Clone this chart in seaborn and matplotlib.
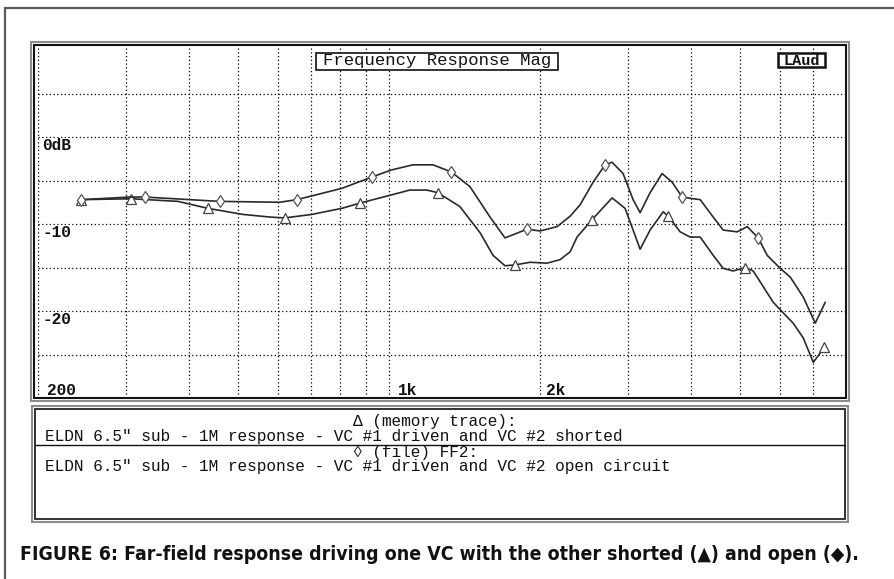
import matplotlib
matplotlib.use("Agg")
import matplotlib.pyplot as plt
from matplotlib import font_manager as fm
from matplotlib.patches import Rectangle
from matplotlib.lines import Line2D
from matplotlib.ticker import NullLocator
import pandas as pd
import seaborn as sns

# Far-field SPL, VC #2 open circuit (diamond trace)
open_freq = [244, 305, 326, 460, 606, 656, 806, 925, 1010, 1116,
             1224, 1330, 1450, 1590, 1703, 1884, 2000, 2163, 2296, 2403,
             2551, 2695, 2783, 2927, 3065, 3165, 3313, 3501, 3666, 3838,
             4036, 4169, 4425, 4634, 4941, 5172, 5441, 5669, 6018, 6301,
             6689, 7067, 7398]
open_db = [-7.2, -6.9, -6.9, -7.4, -7.5, -7.2, -5.9, -4.6, -3.8, -3.2,
           -3.2, -4.0, -5.7, -9.2, -11.6, -10.6, -10.8, -10.3, -9.1, -7.8,
           -5.2, -3.2, -2.9, -4.2, -7.2, -8.7, -6.4, -4.2, -5.2, -6.9,
           -7.1, -7.2, -9.2, -10.7, -10.9, -10.3, -11.6, -13.6, -15.1, -16.1,
           -18.4, -21.4, -19.0]
open_marks = [0, 2, 3, 5, 7, 11, 15, 21, 29, 36]

# Far-field SPL, VC #2 shorted (triangle trace)
shorted_freq = [244, 307, 380, 436, 512, 579, 620, 702, 806, 875,
                1005, 1100, 1190, 1252, 1385, 1519, 1612, 1703, 1783, 1910,
                2065, 2192, 2296, 2370, 2539, 2783, 2954, 3065, 3165, 3313,
                3518, 3600, 3803, 3981, 4169, 4425, 4634, 4851, 5126, 5317,
                5567, 5828, 6074, 6387, 6689, 7003, 7299, 7365]
shorted_db = [-7.2, -7.1, -7.4, -8.2, -8.9, -9.2, -9.3, -8.9, -8.2, -7.6,
              -6.7, -6.1, -6.1, -6.4, -8.0, -11.0, -13.6, -14.8, -14.7, -14.4,
              -14.5, -14.1, -13.2, -11.5, -9.5, -7.0, -8.2, -10.7, -12.9, -10.7,
              -8.6, -9.1, -10.9, -11.5, -11.5, -13.6, -15.1, -15.4, -15.0, -15.4,
              -17.2, -19.0, -20.1, -21.4, -23.1, -25.9, -24.5, -24.1]
shorted_marks = [0, 1, 3, 6, 9, 13, 18, 24, 31, 38, 47]

grid_freqs = [200, 300, 400, 500, 600, 700, 800, 900,
              1000, 2000, 3000, 4000, 5000, 6000, 7000]
grid_db = [5, 0, -5, -10, -15, -20, -25]
freq_labels = [(208, "200"), (1042, "1k"), (2055, "2k")]
db_labels = [(0, "0dB"), (-10, "-10"), (-20, "-20")]

title_text = "Frequency Response Mag"
badge_text = "LAud"
legend_head_1 = "Δ (memory trace):"
legend_desc_1 = "ELDN 6.5\" sub - 1M response - VC #1 driven and VC #2 shorted"
legend_head_2 = "◊ (file) FF2:"
legend_desc_2 = "ELDN 6.5\" sub - 1M response - VC #1 driven and VC #2 open circuit"
caption = ("FIGURE 6: Far-field response driving one VC with the other "
           "shorted (▲) and open (◆).")


def has_font(name):
    try:
        fm.findfont(fm.FontProperties(family=name), fallback_to_default=False)
        return True
    except ValueError:
        return False


MONO = [f for f in ["Liberation Mono"] if has_font(f)] + ["DejaVu Sans Mono"]
NARROW = [f for f in ["Liberation Sans Narrow", "DejaVu Sans Condensed"]
          if has_font(f)] + ["DejaVu Sans"]

W, H = 894, 579
sns.set_theme(style="white")
plt.rcParams["font.family"] = MONO

fig = plt.figure(figsize=(W / 100, H / 100), dpi=100)
fig.patch.set_facecolor("white")


def fx(x):
    return x / W


def fy(y):
    return 1 - y / H


def box(x0, y0, x1, y1, color, lw, fill=False, z=1):
    r = Rectangle((fx(x0), fy(y1)), fx(x1) - fx(x0), fy(y0) - fy(y1),
                  transform=fig.transFigure, fill=fill,
                  facecolor="white" if fill else "none",
                  edgecolor=color, lw=lw, zorder=z)
    fig.add_artist(r)


def hline(x0, x1, y, color, lw):
    fig.add_artist(Line2D([fx(x0), fx(x1)], [fy(y), fy(y)],
                          transform=fig.transFigure, color=color, lw=lw))


def vline(x, y0, y1, color, lw):
    fig.add_artist(Line2D([fx(x), fx(x)], [fy(y0), fy(y1)],
                          transform=fig.transFigure, color=color, lw=lw))


# page border
hline(5, W, 8, "#5a5a5a", 1.6)
vline(5, 8, H, "#5a5a5a", 1.6)

ax = fig.add_axes([fx(38), fy(398), (845 - 38) / W, (398 - 46) / H])
ax.set_facecolor("white")

df_open = pd.DataFrame({"freq": open_freq, "db": open_db})
df_short = pd.DataFrame({"freq": shorted_freq, "db": shorted_db})

sns.lineplot(data=df_short, x="freq", y="db", ax=ax, estimator=None,
             sort=False, color="#2a2a2a", lw=1.2, marker="^",
             markevery=shorted_marks, markersize=6.5,
             markerfacecolor="white", markeredgecolor="#444444",
             markeredgewidth=0.9, zorder=4)
sns.lineplot(data=df_open, x="freq", y="db", ax=ax, estimator=None,
             sort=False, color="#2a2a2a", lw=1.2, marker="d",
             markevery=open_marks, markersize=6.5,
             markerfacecolor="white", markeredgecolor="#555555",
             markeredgewidth=0.9, zorder=4)

ax.set_xscale("log")
ax.set_xlim(200, 8100)
ax.set_ylim(-30, 10.46)
ax.set_xticks(grid_freqs)
ax.set_yticks(grid_db)
ax.xaxis.set_minor_locator(NullLocator())
ax.yaxis.set_minor_locator(NullLocator())
ax.tick_params(length=0, labelbottom=False, labelleft=False)
ax.set_xlabel("")
ax.set_ylabel("")
ax.grid(True, color="black", lw=0.9, linestyle=(0, (1, 2)))
for s in ax.spines.values():
    s.set_visible(False)

label_font = dict(family=MONO, fontsize=11.6, fontweight="bold",
                  color="#111111")
for db, txt in db_labels:
    ax.text(0.005, db - 0.12, txt, transform=ax.get_yaxis_transform(),
            ha="left", va="top", zorder=5,
            bbox=dict(facecolor="white", edgecolor="none", pad=0.3),
            **label_font)
for f, txt in freq_labels:
    ax.text(f, -29.65, txt, ha="left", va="baseline", zorder=5,
            **label_font)

# plot frame (double rule)
box(31, 42, 849, 401, "#8c8c8c", 1.5, z=3)
box(34, 45, 846, 398, "#111111", 1.5, z=3)

# header boxes
box(316, 53, 558, 70, "#111111", 1.2, fill=True, z=6)
fig.text(fx(437), fy(65.5), title_text, ha="center", va="baseline",
         fontsize=12.4, color="#111111", zorder=7, family=MONO)
box(778, 53, 825, 67, "#111111", 1.8, fill=True, z=6)
fig.text(fx(801.5), fy(65), badge_text, ha="center", va="baseline",
         fontsize=10.9, fontweight="bold", color="#111111",
         zorder=7, family=MONO)

# trace description panel
box(32, 406, 848, 522, "#8c8c8c", 1.5)
box(35, 409, 845, 519, "#111111", 1.2)
hline(35, 845, 445, "#111111", 1.0)
legend_font = dict(family=MONO, fontsize=11.6, color="#111111",
                   va="baseline", ha="left")
fig.text(fx(353), fy(426), legend_head_1, **legend_font)
fig.text(fx(45), fy(440.5), legend_desc_1, **legend_font)
fig.text(fx(353), fy(457.5), legend_head_2, **legend_font)
fig.text(fx(45), fy(471.5), legend_desc_2, **legend_font)

# figure caption, sized to span the panel width
cap = fig.text(fx(20), fy(560), caption, ha="left", va="baseline",
               fontsize=15, fontweight="bold", fontstretch="condensed",
               color="#111111", family=NARROW)
fig.canvas.draw()
bb = cap.get_window_extent()
cap.set_fontsize(15 * 835 / bb.width)

fig.savefig("out.png", dpi=100, facecolor="white")
